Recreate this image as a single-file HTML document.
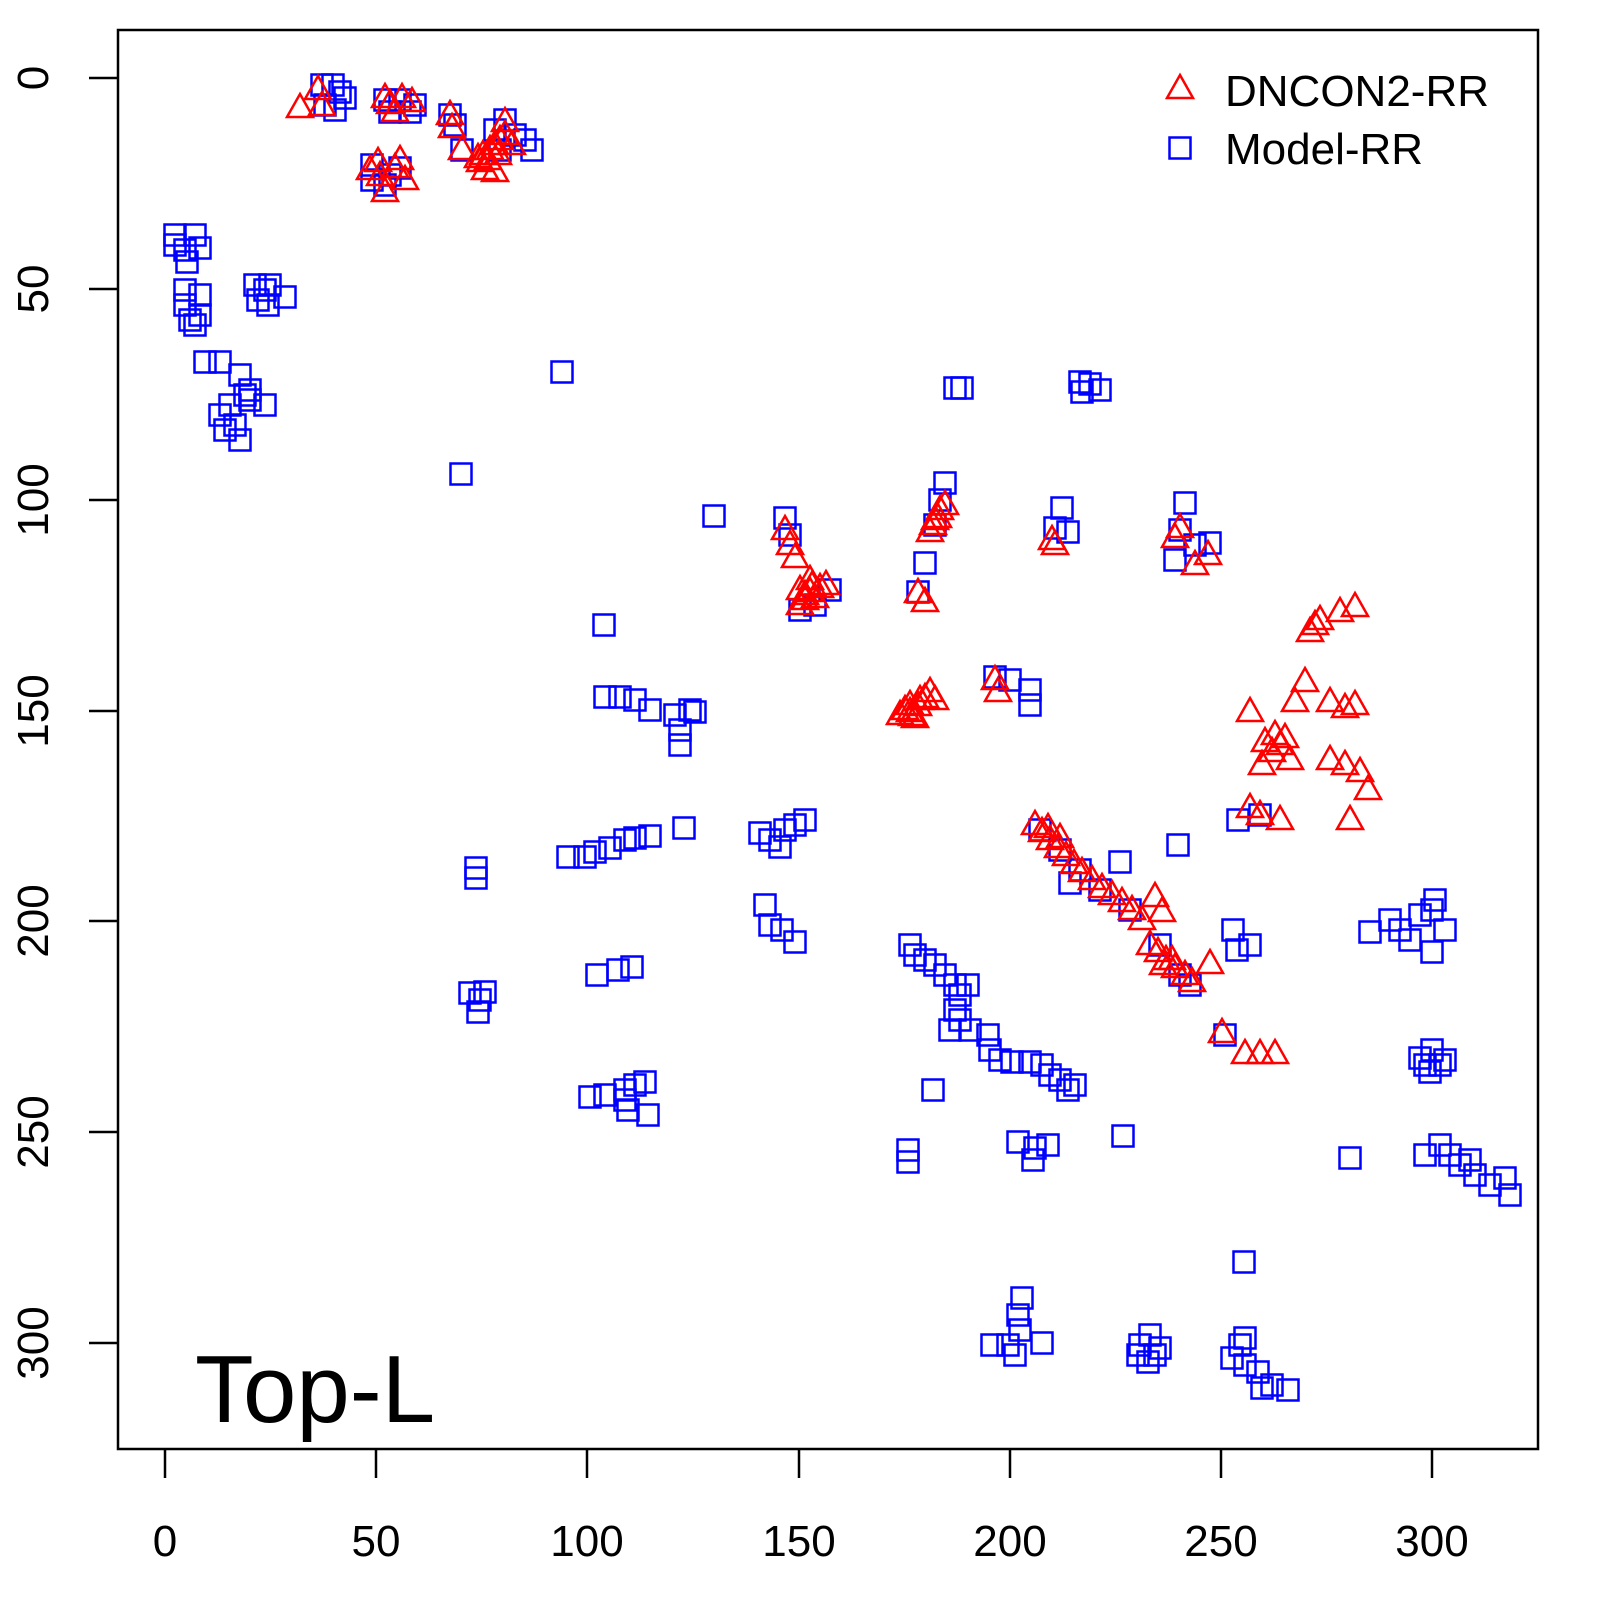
<!DOCTYPE html>
<html><head><meta charset="utf-8"><style>
html,body{margin:0;padding:0;background:#fff;width:1600px;height:1600px;overflow:hidden}
svg{display:block;position:absolute;left:0;top:0}
text{font-family:"Liberation Sans",Arial,sans-serif;fill:#000}
</style></head><body>
<svg width="1600" height="1600" viewBox="0 0 1600 1600" xmlns="http://www.w3.org/2000/svg">
<defs>
<rect id="s" x="-10.5" y="-10.5" width="21" height="21" fill="none" stroke="#0000ff" stroke-width="2.5"/>
<polygon id="t" points="0,-14 13,9 -13,9" fill="none" stroke="#ff0000" stroke-width="2.5"/>
</defs>
<rect x="118" y="30" width="1420" height="1419" fill="none" stroke="#000" stroke-width="2.5"/>
<g stroke="#000" stroke-width="2.5">
<line x1="165" y1="1449" x2="165" y2="1478"/><line x1="376" y1="1449" x2="376" y2="1478"/><line x1="587" y1="1449" x2="587" y2="1478"/><line x1="799" y1="1449" x2="799" y2="1478"/><line x1="1010" y1="1449" x2="1010" y2="1478"/><line x1="1221" y1="1449" x2="1221" y2="1478"/><line x1="1432" y1="1449" x2="1432" y2="1478"/>
<line x1="118" y1="78" x2="89" y2="78"/><line x1="118" y1="289" x2="89" y2="289"/><line x1="118" y1="500" x2="89" y2="500"/><line x1="118" y1="711" x2="89" y2="711"/><line x1="118" y1="921" x2="89" y2="921"/><line x1="118" y1="1132" x2="89" y2="1132"/><line x1="118" y1="1343" x2="89" y2="1343"/>
</g>
<g font-size="44" text-anchor="middle">
<text x="165" y="1556">0</text><text x="376" y="1556">50</text><text x="587" y="1556">100</text><text x="799" y="1556">150</text><text x="1010" y="1556">200</text><text x="1221" y="1556">250</text><text x="1432" y="1556">300</text>
<text transform="translate(48,78) rotate(-90)">0</text><text transform="translate(48,289) rotate(-90)">50</text><text transform="translate(48,500) rotate(-90)">100</text><text transform="translate(48,711) rotate(-90)">150</text><text transform="translate(48,921) rotate(-90)">200</text><text transform="translate(48,1132) rotate(-90)">250</text><text transform="translate(48,1343) rotate(-90)">300</text>
</g>
<text x="195" y="1422" font-size="96">Top-L</text>
<use href="#t" x="1180" y="89"/><text x="1225" y="106" font-size="44">DNCON2-RR</text>
<use href="#s" x="1180" y="148"/><text x="1225" y="164" font-size="44">Model-RR</text>
<g>
<use href="#s" x="322" y="85"/><use href="#s" x="333" y="85"/><use href="#s" x="340" y="92"/><use href="#s" x="345" y="98"/><use href="#s" x="325" y="105"/><use href="#s" x="335" y="110"/>
<use href="#s" x="385" y="100"/><use href="#s" x="400" y="100"/><use href="#s" x="415" y="105"/><use href="#s" x="390" y="112"/><use href="#s" x="410" y="112"/>
<use href="#s" x="372" y="165"/><use href="#s" x="372" y="180"/><use href="#s" x="390" y="175"/><use href="#s" x="400" y="168"/><use href="#s" x="385" y="185"/>
<use href="#s" x="450" y="115"/><use href="#s" x="455" y="125"/><use href="#s" x="462" y="150"/>
<use href="#s" x="495" y="130"/><use href="#s" x="505" y="120"/><use href="#s" x="515" y="135"/><use href="#s" x="525" y="140"/><use href="#s" x="532" y="150"/><use href="#s" x="500" y="150"/>
<use href="#s" x="175" y="235"/><use href="#s" x="175" y="245"/><use href="#s" x="185" y="250"/><use href="#s" x="195" y="235"/><use href="#s" x="200" y="248"/><use href="#s" x="187" y="262"/>
<use href="#s" x="185" y="290"/><use href="#s" x="185" y="305"/><use href="#s" x="190" y="320"/><use href="#s" x="200" y="295"/><use href="#s" x="200" y="315"/><use href="#s" x="195" y="325"/>
<use href="#s" x="205" y="362"/><use href="#s" x="220" y="362"/>
<use href="#s" x="240" y="375"/><use href="#s" x="230" y="405"/><use href="#s" x="220" y="415"/><use href="#s" x="235" y="425"/><use href="#s" x="240" y="440"/><use href="#s" x="245" y="395"/><use href="#s" x="250" y="400"/><use href="#s" x="265" y="405"/><use href="#s" x="250" y="390"/><use href="#s" x="225" y="430"/>
<use href="#s" x="255" y="285"/><use href="#s" x="265" y="290"/><use href="#s" x="270" y="285"/><use href="#s" x="285" y="297"/><use href="#s" x="258" y="300"/><use href="#s" x="268" y="305"/>
<use href="#s" x="562" y="372"/><use href="#s" x="461" y="474"/><use href="#s" x="714" y="516"/><use href="#s" x="604" y="625"/>
<use href="#s" x="955" y="388"/><use href="#s" x="962" y="388"/><use href="#s" x="1080" y="382"/><use href="#s" x="1082" y="392"/><use href="#s" x="1100" y="390"/><use href="#s" x="1090" y="384"/>
<use href="#s" x="605" y="697"/><use href="#s" x="620" y="697"/><use href="#s" x="635" y="700"/><use href="#s" x="650" y="710"/><use href="#s" x="675" y="715"/><use href="#s" x="690" y="710"/><use href="#s" x="680" y="730"/><use href="#s" x="680" y="745"/><use href="#s" x="695" y="712"/>
<use href="#s" x="785" y="518"/><use href="#s" x="790" y="535"/><use href="#s" x="800" y="610"/><use href="#s" x="815" y="605"/><use href="#s" x="830" y="590"/>
<use href="#s" x="945" y="483"/><use href="#s" x="940" y="500"/><use href="#s" x="935" y="525"/><use href="#s" x="925" y="563"/><use href="#s" x="918" y="592"/>
<use href="#s" x="1062" y="508"/><use href="#s" x="1055" y="528"/><use href="#s" x="1068" y="532"/>
<use href="#s" x="1185" y="503"/><use href="#s" x="1180" y="530"/><use href="#s" x="1175" y="560"/><use href="#s" x="1195" y="545"/><use href="#s" x="1210" y="543"/>
<use href="#s" x="995" y="677"/><use href="#s" x="1010" y="680"/><use href="#s" x="1030" y="690"/><use href="#s" x="1030" y="705"/>
<use href="#s" x="476" y="868"/><use href="#s" x="476" y="878"/><use href="#s" x="568" y="857"/><use href="#s" x="585" y="857"/><use href="#s" x="595" y="852"/><use href="#s" x="610" y="848"/><use href="#s" x="625" y="840"/><use href="#s" x="635" y="838"/><use href="#s" x="650" y="836"/><use href="#s" x="684" y="828"/>
<use href="#s" x="760" y="833"/><use href="#s" x="770" y="840"/><use href="#s" x="785" y="830"/><use href="#s" x="795" y="825"/><use href="#s" x="805" y="820"/><use href="#s" x="780" y="847"/>
<use href="#s" x="765" y="905"/><use href="#s" x="770" y="925"/><use href="#s" x="782" y="930"/><use href="#s" x="795" y="942"/>
<use href="#s" x="597" y="975"/><use href="#s" x="618" y="970"/><use href="#s" x="632" y="967"/>
<use href="#s" x="470" y="993"/><use href="#s" x="480" y="1000"/><use href="#s" x="485" y="992"/><use href="#s" x="478" y="1012"/>
<use href="#s" x="590" y="1097"/><use href="#s" x="605" y="1095"/><use href="#s" x="625" y="1090"/><use href="#s" x="635" y="1085"/><use href="#s" x="645" y="1082"/><use href="#s" x="628" y="1110"/><use href="#s" x="648" y="1115"/><use href="#s" x="625" y="1100"/>
<use href="#s" x="910" y="945"/><use href="#s" x="915" y="955"/><use href="#s" x="925" y="960"/><use href="#s" x="935" y="965"/><use href="#s" x="945" y="975"/><use href="#s" x="955" y="985"/><use href="#s" x="960" y="995"/><use href="#s" x="968" y="985"/><use href="#s" x="955" y="1010"/><use href="#s" x="960" y="1020"/><use href="#s" x="950" y="1030"/><use href="#s" x="970" y="1030"/><use href="#s" x="988" y="1035"/><use href="#s" x="990" y="1050"/><use href="#s" x="1000" y="1060"/><use href="#s" x="1012" y="1062"/><use href="#s" x="1030" y="1062"/><use href="#s" x="1042" y="1065"/><use href="#s" x="1050" y="1075"/><use href="#s" x="1060" y="1080"/><use href="#s" x="1068" y="1090"/><use href="#s" x="1075" y="1085"/><use href="#s" x="933" y="1090"/><use href="#s" x="1123" y="1136"/>
<use href="#s" x="908" y="1150"/><use href="#s" x="908" y="1162"/><use href="#s" x="1018" y="1142"/><use href="#s" x="1035" y="1148"/><use href="#s" x="1048" y="1145"/><use href="#s" x="1033" y="1160"/>
<use href="#s" x="1233" y="930"/><use href="#s" x="1237" y="950"/><use href="#s" x="1250" y="945"/>
<use href="#s" x="1178" y="845"/><use href="#s" x="1120" y="862"/><use href="#s" x="1238" y="820"/>
<use href="#s" x="1370" y="932"/><use href="#s" x="1390" y="920"/><use href="#s" x="1400" y="930"/><use href="#s" x="1420" y="915"/><use href="#s" x="1432" y="910"/><use href="#s" x="1445" y="930"/><use href="#s" x="1432" y="952"/><use href="#s" x="1410" y="940"/><use href="#s" x="1435" y="900"/>
<use href="#s" x="1420" y="1058"/><use href="#s" x="1432" y="1050"/><use href="#s" x="1440" y="1065"/><use href="#s" x="1430" y="1072"/><use href="#s" x="1445" y="1060"/><use href="#s" x="1425" y="1065"/>
<use href="#s" x="1425" y="1155"/><use href="#s" x="1440" y="1145"/><use href="#s" x="1450" y="1155"/><use href="#s" x="1460" y="1165"/><use href="#s" x="1475" y="1175"/><use href="#s" x="1490" y="1185"/><use href="#s" x="1510" y="1195"/><use href="#s" x="1505" y="1178"/><use href="#s" x="1470" y="1160"/>
<use href="#s" x="1350" y="1158"/><use href="#s" x="1244" y="1262"/>
<use href="#s" x="1008" y="1345"/><use href="#s" x="1020" y="1330"/><use href="#s" x="1022" y="1298"/><use href="#s" x="1018" y="1315"/><use href="#s" x="1042" y="1343"/><use href="#s" x="1015" y="1355"/><use href="#s" x="992" y="1345"/>
<use href="#s" x="1140" y="1345"/><use href="#s" x="1150" y="1335"/><use href="#s" x="1155" y="1355"/><use href="#s" x="1148" y="1362"/><use href="#s" x="1160" y="1348"/><use href="#s" x="1138" y="1355"/>
<use href="#s" x="1232" y="1358"/><use href="#s" x="1240" y="1345"/><use href="#s" x="1245" y="1365"/><use href="#s" x="1258" y="1372"/><use href="#s" x="1272" y="1385"/><use href="#s" x="1288" y="1390"/><use href="#s" x="1262" y="1388"/><use href="#s" x="1245" y="1338"/>
<use href="#s" x="1225" y="1035"/><use href="#s" x="1260" y="815"/>
<use href="#s" x="1040" y="830"/><use href="#s" x="1060" y="850"/><use href="#s" x="1080" y="870"/><use href="#s" x="1100" y="890"/><use href="#s" x="1130" y="910"/><use href="#s" x="1160" y="945"/><use href="#s" x="1180" y="975"/><use href="#s" x="1190" y="985"/><use href="#s" x="1070" y="883"/>
</g>
<g>
<use href="#t" x="300" y="108"/><use href="#t" x="318" y="90"/><use href="#t" x="322" y="106"/>
<use href="#t" x="385" y="98"/><use href="#t" x="390" y="104"/><use href="#t" x="402" y="98"/><use href="#t" x="412" y="102"/><use href="#t" x="395" y="112"/>
<use href="#t" x="370" y="170"/><use href="#t" x="380" y="176"/><use href="#t" x="395" y="168"/><use href="#t" x="405" y="180"/><use href="#t" x="385" y="192"/><use href="#t" x="378" y="162"/><use href="#t" x="400" y="160"/>
<use href="#t" x="450" y="115"/><use href="#t" x="452" y="128"/><use href="#t" x="462" y="150"/>
<use href="#t" x="480" y="162"/><use href="#t" x="490" y="150"/><use href="#t" x="500" y="140"/><use href="#t" x="505" y="122"/><use href="#t" x="495" y="172"/><use href="#t" x="485" y="170"/><use href="#t" x="478" y="158"/><use href="#t" x="512" y="145"/><use href="#t" x="498" y="155"/><use href="#t" x="488" y="160"/><use href="#t" x="495" y="145"/><use href="#t" x="505" y="135"/><use href="#t" x="483" y="155"/>
<use href="#t" x="785" y="530"/><use href="#t" x="790" y="545"/><use href="#t" x="795" y="558"/><use href="#t" x="800" y="590"/><use href="#t" x="805" y="600"/><use href="#t" x="810" y="592"/><use href="#t" x="820" y="588"/><use href="#t" x="826" y="585"/><use href="#t" x="800" y="605"/><use href="#t" x="810" y="580"/><use href="#t" x="805" y="595"/><use href="#t" x="815" y="598"/><use href="#t" x="812" y="586"/>
<use href="#t" x="918" y="593"/><use href="#t" x="925" y="602"/><use href="#t" x="935" y="520"/><use href="#t" x="940" y="510"/><use href="#t" x="930" y="532"/><use href="#t" x="945" y="505"/><use href="#t" x="938" y="518"/><use href="#t" x="933" y="525"/>
<use href="#t" x="1052" y="540"/><use href="#t" x="1055" y="545"/>
<use href="#t" x="1175" y="538"/><use href="#t" x="1180" y="528"/><use href="#t" x="1195" y="565"/><use href="#t" x="1208" y="555"/>
<use href="#t" x="900" y="715"/><use href="#t" x="910" y="705"/><use href="#t" x="920" y="700"/><use href="#t" x="930" y="692"/><use href="#t" x="910" y="712"/><use href="#t" x="915" y="718"/><use href="#t" x="905" y="710"/><use href="#t" x="918" y="706"/><use href="#t" x="925" y="698"/><use href="#t" x="935" y="700"/><use href="#t" x="912" y="716"/>
<use href="#t" x="995" y="680"/><use href="#t" x="998" y="692"/>
<use href="#t" x="1035" y="825"/><use href="#t" x="1042" y="832"/><use href="#t" x="1050" y="840"/><use href="#t" x="1058" y="848"/><use href="#t" x="1066" y="856"/><use href="#t" x="1074" y="864"/><use href="#t" x="1082" y="872"/><use href="#t" x="1092" y="880"/><use href="#t" x="1102" y="888"/><use href="#t" x="1112" y="895"/><use href="#t" x="1122" y="902"/><use href="#t" x="1132" y="910"/><use href="#t" x="1142" y="920"/><use href="#t" x="1150" y="945"/><use href="#t" x="1158" y="952"/><use href="#t" x="1166" y="960"/><use href="#t" x="1175" y="968"/><use href="#t" x="1185" y="975"/><use href="#t" x="1192" y="982"/><use href="#t" x="1155" y="897"/><use href="#t" x="1162" y="912"/><use href="#t" x="1048" y="828"/><use href="#t" x="1060" y="838"/><use href="#t" x="1163" y="965"/><use href="#t" x="1172" y="960"/>
<use href="#t" x="1210" y="964"/><use href="#t" x="1222" y="1033"/><use href="#t" x="1245" y="1054"/><use href="#t" x="1260" y="1054"/><use href="#t" x="1275" y="1054"/>
<use href="#t" x="1310" y="632"/><use href="#t" x="1320" y="620"/><use href="#t" x="1340" y="612"/><use href="#t" x="1355" y="607"/><use href="#t" x="1315" y="625"/>
<use href="#t" x="1305" y="682"/><use href="#t" x="1295" y="702"/><use href="#t" x="1250" y="712"/><use href="#t" x="1265" y="742"/><use href="#t" x="1280" y="745"/><use href="#t" x="1275" y="735"/><use href="#t" x="1262" y="765"/><use href="#t" x="1290" y="760"/><use href="#t" x="1272" y="752"/><use href="#t" x="1285" y="738"/>
<use href="#t" x="1330" y="702"/><use href="#t" x="1355" y="705"/><use href="#t" x="1330" y="760"/><use href="#t" x="1345" y="765"/><use href="#t" x="1360" y="772"/><use href="#t" x="1368" y="790"/><use href="#t" x="1350" y="820"/><use href="#t" x="1250" y="808"/><use href="#t" x="1260" y="815"/><use href="#t" x="1280" y="820"/><use href="#t" x="1345" y="708"/>
</g>
</svg>
</body></html>
